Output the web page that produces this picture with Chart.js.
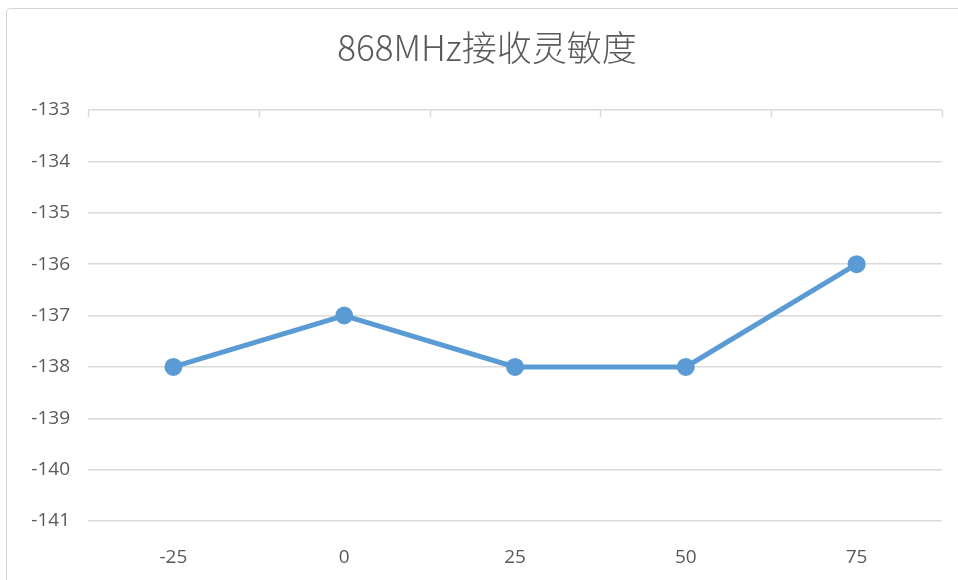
<!DOCTYPE html>
<html lang="zh">
<head>
  <meta charset="UTF-8" />
  <title>868MHz接收灵敏度</title>
  <script src="https://cdn.jsdelivr.net/npm/chart.js"></script>
  <style>
    html, body { margin: 0; padding: 0; background: #fff; overflow: hidden; }
    .frame {
      position: absolute; left: 6px; top: 8px; width: 1200px; height: 700px;
      border: 1.5px solid #d4d4d4; border-right: none; border-bottom: none;
      border-top-left-radius: 5px; box-sizing: border-box;
    }
    #sens { position: absolute; left: 0; top: 0; }
  </style>
</head>
<body>
  <div class="frame"></div>
  <canvas id="sens" width="958" height="580"></canvas>

  <script>
    // temperature points and measured sensitivity (dBm)
    const temps = ['-25', '0', '25', '50', '75'];
    const sensitivity = [-138, -137, -138, -138, -136];
    const yTicks = [-141, -140, -139, -138, -137, -136, -135, -134, -133];

    const lineBlue = '#5b9bd5';
    const gridGray = '#d9d9d9';
    const textGray = '#595959';

    // small down-pointing tick marks on the top axis line at category boundaries
    const topTicks = {
      id: 'topTicks',
      afterDatasetsDraw(chart) {
        const { ctx, chartArea } = chart;
        const n = temps.length;
        const step = (chartArea.right - chartArea.left) / n;
        ctx.save();
        ctx.strokeStyle = gridGray;
        ctx.lineWidth = 1.5;
        ctx.beginPath();
        for (let i = 0; i <= n; i++) {
          const x = Math.round(chartArea.left + i * step) + 0.5;
          ctx.moveTo(x, chartArea.top);
          ctx.lineTo(x, chartArea.top + 7);
        }
        ctx.stroke();
        ctx.restore();
      }
    };

    new Chart(document.getElementById('sens'), {
      type: 'line',
      data: {
        labels: temps,
        datasets: [{
          data: sensitivity,
          borderColor: lineBlue,
          backgroundColor: lineBlue,
          borderWidth: 5,
          pointRadius: 6.5,
          pointHoverRadius: 6.5,
          tension: 0
        }]
      },
      options: {
        responsive: false,
        animation: false,
        layout: { padding: { left: 32, right: 16, top: 0, bottom: 0 } },
        plugins: {
          legend: { display: false },
          tooltip: { enabled: false },
          title: {
            display: true,
            text: '868MHz接收灵敏度',
            color: textGray,
            font: { family: '"Noto Sans CJK SC", sans-serif', size: 35, weight: '300', lineHeight: 1.2 },
            padding: { top: 27, bottom: 41 }
          }
        },
        scales: {
          x: {
            offset: true,
            afterFit(scale) { scale.height = 59; },
            grid: { display: false },
            border: { display: false },
            ticks: {
              color: textGray,
              padding: 17,
              font: { family: '"Open Sans", sans-serif', size: 19 }
            }
          },
          y: {
            min: -141,
            max: -133,
            afterBuildTicks(scale) {
              scale.ticks = yTicks.map(v => ({ value: v }));
            },
            afterFit(scale) { scale.width = 56; },
            grid: { color: gridGray, lineWidth: 1.5, drawTicks: false },
            border: { display: false },
            ticks: {
              color: textGray,
              padding: 18,
              font: { family: '"Open Sans", sans-serif', size: 19 }
            }
          }
        }
      },
      plugins: [topTicks]
    });
  </script>
</body>
</html>
